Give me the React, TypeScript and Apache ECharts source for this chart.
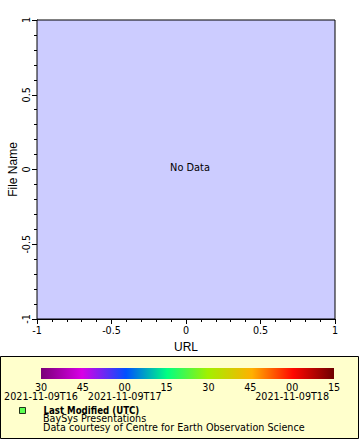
import React, { useEffect, useRef } from "react";
import * as echarts from "echarts";

// ---- data ----
const axisMin = -1;
const axisMax = 1;
const axisStep = 0.5;
const points: number[][] = []; // "No Data"
const xAxisName = "URL";
const yAxisName = "File Name";
const noDataText = "No Data";

// colour bar: minutes since 00:00 UTC on 2021-11-09
const barMinMinutes = 990; // 16:30
const barMaxMinutes = 1095; // 18:15
const barStepMinutes = 15;
const dateLabelMinutes = [990, 1020, 1080];
const datePrefix = "2021-11-09T";
const barColors = [
  [0, "#7a0078"],
  [0.14, "#d800e6"],
  [0.29, "#0050ff"],
  [0.43, "#00ff82"],
  [0.57, "#a2f000"],
  [0.72, "#ffb000"],
  [0.86, "#ff0800"],
  [1, "#6e0000"],
] as [number, string][];

const legendName = "Last Modified (UTC)";
const creditLines = ["BaySys Presentations", "Data courtesy of Centre for Earth Observation Science"];

const SMALL = "'DejaVu Sans', sans-serif";
const BIG = "'Liberation Sans', Arial, sans-serif";

export default function App() {
  const ref = useRef<HTMLDivElement>(null);
  useEffect(() => {
    if (!ref.current) return;
    const chart = echarts.init(ref.current, null, { renderer: "svg" });
    const pad = (n: number) => String(n).padStart(2, "0");
    const valueAxisCommon = {
      type: "value",
      min: axisMin,
      max: axisMax,
      interval: axisStep,
      nameMoveOverlap: false,
      axisLine: { show: true, onZero: false, lineStyle: { color: "#000", width: 1 } },
      axisTick: { show: true, length: 5, lineStyle: { color: "#000" } },
      minorTick: { show: true, splitNumber: 5, length: 3, lineStyle: { color: "#000" } },
      splitLine: { show: false },
      nameTextStyle: { fontFamily: BIG, fontSize: 12, color: "#000" },
    };
    const barAxisCommon = {
      type: "value",
      gridIndex: 1,
      position: "bottom",
      min: barMinMinutes,
      max: barMaxMinutes,
      interval: barStepMinutes,
      axisLine: { show: false, onZero: false },
      axisTick: { show: false },
      splitLine: { show: false },
    };
    chart.setOption({
      animation: false,
      backgroundColor: "#fff",
      grid: [
        {
          left: 37,
          top: 20,
          width: 298,
          height: 299,
          outerBoundsMode: "none",
          containLabel: false,
          show: true,
          backgroundColor: "#CCCCFF",
          borderColor: "#000",
          borderWidth: 1,
          z: 1,
        },
        {
          left: 41,
          top: 368,
          width: 293,
          height: 11,
          outerBoundsMode: "none",
          containLabel: false,
          show: true,
          borderWidth: 0,
          backgroundColor: new echarts.graphic.LinearGradient(
            0,
            0,
            1,
            0,
            barColors.map(([offset, color]) => ({ offset, color }))
          ),
          z: 5,
        },
      ],
      xAxis: [
        {
          ...valueAxisCommon,
          gridIndex: 0,
          position: "bottom",
          name: xAxisName,
          nameLocation: "middle",
          nameGap: 22,
          axisLabel: {
            margin: 6,
            fontFamily: SMALL,
            fontSize: 9.6,
            color: "#000",
            showMinLabel: true,
            showMaxLabel: true,
          },
        },
        {
          ...barAxisCommon,
          axisLabel: {
            margin: 4,
            fontFamily: SMALL,
            fontSize: 9.6,
            lineHeight: 8,
            color: "#000",
            showMinLabel: true,
            showMaxLabel: true,
            formatter: (v: number) => pad(Math.round(v) % 60),
          },
        },
        {
          ...barAxisCommon,
          axisLabel: {
            margin: 13.5,
            fontFamily: SMALL,
            fontSize: 9.6,
            lineHeight: 8,
            color: "#000",
            customValues: dateLabelMinutes,
            formatter: (v: number) => datePrefix + pad(Math.floor(v / 60)),
          },
        },
      ],
      yAxis: [
        {
          ...valueAxisCommon,
          gridIndex: 0,
          position: "left",
          name: yAxisName,
          nameLocation: "middle",
          nameGap: 18,
          axisLabel: {
            margin: 6,
            rotate: 90,
            fontFamily: SMALL,
            fontSize: 9.6,
            color: "#000",
            showMinLabel: true,
            showMaxLabel: true,
          },
        },
        { type: "value", gridIndex: 1, show: false, min: 0, max: 1 },
      ],
      legend: {
        left: 19,
        top: 404.5,
        padding: 0,
        icon: "rect",
        itemWidth: 6,
        itemHeight: 6,
        itemStyle: { borderColor: "#000", borderWidth: 1 },
        formatter: (name: string) => `{g|}{b|${name}}`,
        textStyle: {
          rich: {
            g: { width: 13, lineHeight: 8 },
            b: {
              fontFamily: "'DejaVu Sans Condensed', 'DejaVu Sans', sans-serif",
              fontWeight: "bold",
              fontSize: 9.6,
              lineHeight: 8,
              color: "#000",
            },
          },
        },
        data: [legendName],
      },
      graphic: [
        {
          type: "rect",
          z: -10,
          shape: { x: 0.5, y: 356.5, width: 358, height: 82 },
          style: { fill: "#FFFFCC", stroke: "#000", lineWidth: 1 },
        },
        {
          type: "text",
          z: 10,
          x: 190,
          y: 167,
          style: {
            text: noDataText,
            fontFamily: SMALL,
            fontSize: 9.8,
            fill: "#000",
            align: "center",
            verticalAlign: "middle",
          },
        },
        ...creditLines.map((line, i) => ({
          type: "text",
          z: 10,
          x: 43,
          y: 418.5 + i * 9.3,
          style: {
            text: line,
            fontFamily: SMALL,
            fontSize: 9.6,
            lineHeight: 8,
            fill: "#000",
            align: "left",
            verticalAlign: "middle",
          },
        })),
      ],
      series: [
        {
          name: legendName,
          type: "scatter",
          xAxisIndex: 0,
          yAxisIndex: 0,
          data: points,
          itemStyle: { color: "#33ff33", borderColor: "#000", borderWidth: 1 },
        },
      ],
    });
    return () => chart.dispose();
  }, []);
  return (
    <div
      ref={ref}
      style={{ position: "absolute", left: 0, top: 0, width: 360, height: 440 }}
    />
  );
}
